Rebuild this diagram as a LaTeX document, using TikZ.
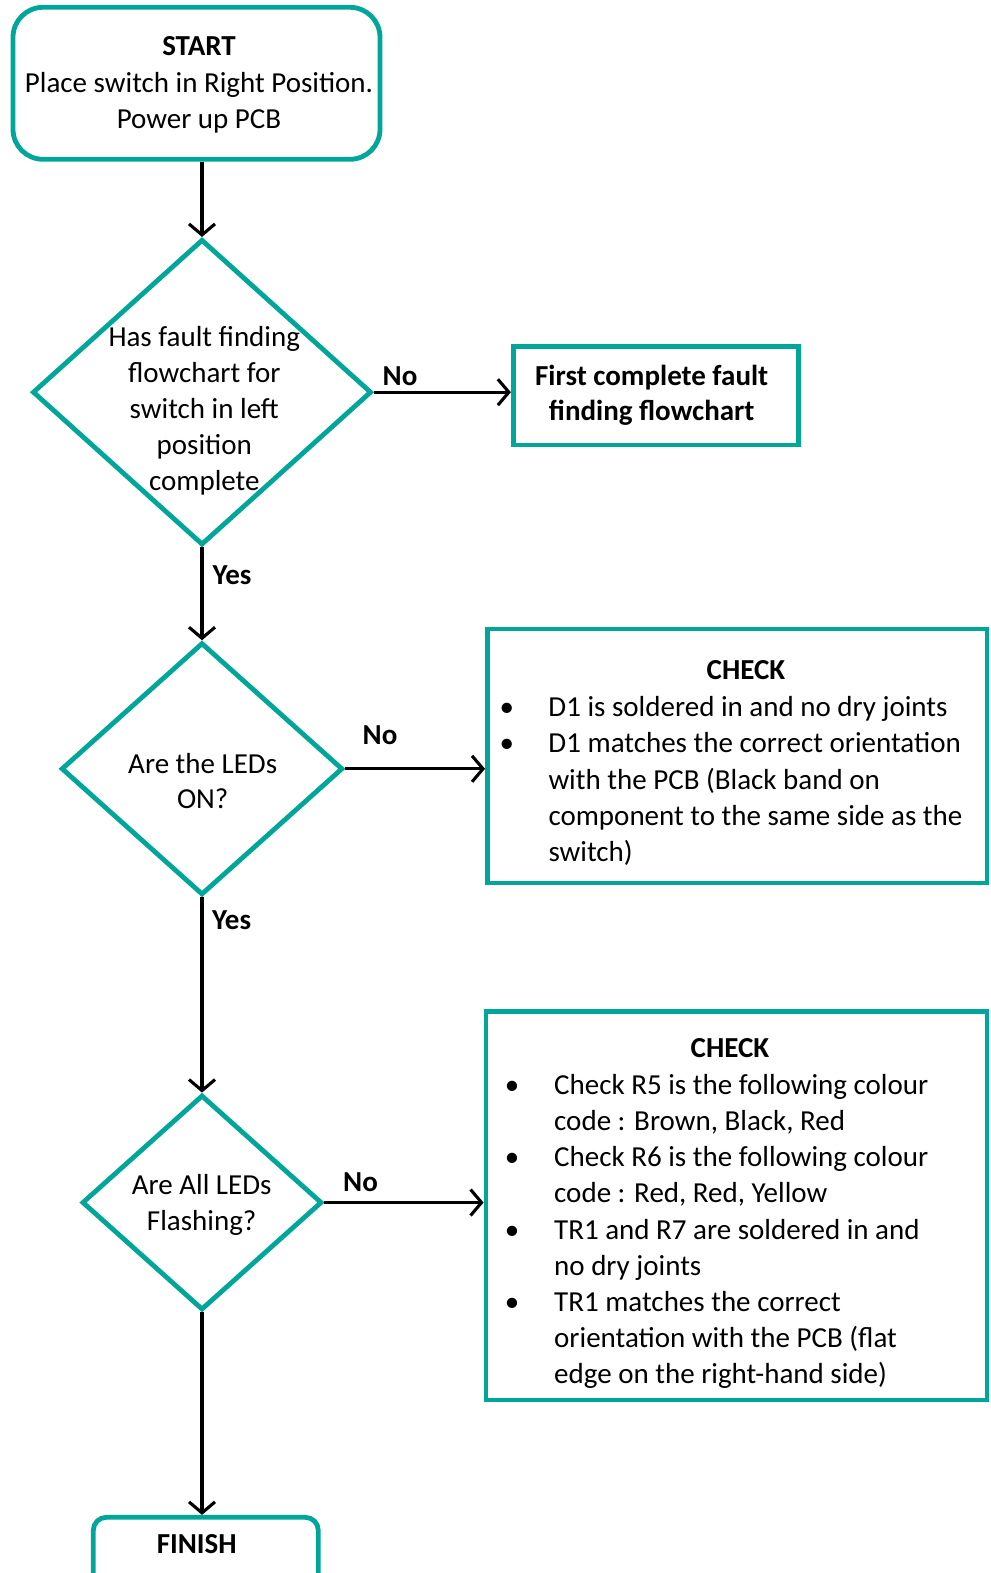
\documentclass[tikz,border=0pt]{standalone}
\usepackage{fontspec}
\setmainfont{Carlito}
\usetikzlibrary{arrows.meta,shapes.geometric}
\definecolor{tealline}{RGB}{0,166,153}
\newcommand\mtab[1]{\begin{tabular}[t]{@{}c@{}}#1\end{tabular}}
\newcommand\bul{\makebox[41.6pt][l]{\makebox[0pt]{•}}}
\begin{document}
\begin{tikzpicture}[x=1pt,y=-1pt,
  every node/.style={font={\fontsize{29}{36.2}\selectfont}, inner sep=0pt},
  txt/.style={anchor=base, align=center},
  lbl/.style={anchor=base, font={\fontsize{29}{36.2}\selectfont\bfseries}},
  frame/.style={draw=tealline, line width=4.8pt, fill=white},
  roundbox/.style={frame, rectangle, rounded corners=#1},
  sqbox/.style={frame, rectangle},
  decision/.style={frame, diamond},
  flow/.style={draw=black, line width=3.1pt, -{Straight Barb[length=11pt,width=26pt]}}]
\useasboundingbox (0,0) rectangle (990,1573);
\clip (0,0) rectangle (990,1573);
\fill[white] (0,0) rectangle (990,1573);

% shapes
\node[roundbox=30pt, minimum width=367pt, minimum height=152pt] (start) at (196.5,83.3) {};
\node[decision, minimum width=339pt, minimum height=305.7pt] (d1) at (202,392.2) {};
\node[sqbox, minimum width=285pt, minimum height=98.3pt] (first) at (655.8,395.9) {};
\node[decision, minimum width=281.6pt, minimum height=252.3pt] (d2) at (202,768.8) {};
\node[sqbox, minimum width=499.5pt, minimum height=254pt] (chk1) at (737.2,756) {};
\node[decision, minimum width=240pt, minimum height=215pt] (d3) at (202,1202.5) {};
\node[sqbox, minimum width=501pt, minimum height=388.5pt] (chk2) at (736.5,1205.7) {};
\node[roundbox=13pt, minimum width=225pt, minimum height=70pt] (finish) at (205.8,1552.3) {};

% texts
\node[txt] (starttxt) at (199,56) {\mtab{\textbf{START}\\Place switch in Right Position.\\Power up PCB}};
\node[txt] (d1txt) at (204.3,346) {\mtab{Has fault finding\\flowchart for\\switch in left\\position\\complete}};
\node[txt] (firsttxt) at (651.7,385) {\mtab{\textbf{First complete fault}\\[-0.5pt]\textbf{finding flowchart}}};
\node[txt] (d2txt) at (202.7,773.3) {\mtab{Are the LEDs\\[-1pt]ON?}};
\node[txt] (d3txt) at (201.7,1194.3) {\mtab{Are All LEDs\\[-0.5pt]Flashing?}};
\node[lbl] (chk1head) at (746,679.3) {CHECK};
\node[anchor=base west] (chk1list) at (506.7,716.7) {\begin{tabular}[t]{@{}l@{}l@{}}
\bul & D1 is soldered in and no dry joints\\
\bul & D1 matches the correct orientation\\
 & with the PCB (Black band on\\
 & component to the same side as the\\
 & switch)\end{tabular}};
\node[lbl] (chk2head) at (730,1057.3) {CHECK};
\node[anchor=base west] (chk2list) at (512,1094.3) {\begin{tabular}[t]{@{}l@{}l@{}}
\makebox[42pt][l]{\makebox[0pt]{•}} & Check R5 is the following colour\\
 & code : Brown, Black, Red\\
\makebox[42pt][l]{\makebox[0pt]{•}} & Check R6 is the following colour\\
 & code : Red, Red, Yellow\\
\makebox[42pt][l]{\makebox[0pt]{•}} & TR1 and R7 are soldered in and\\
 & no dry joints\\
\makebox[42pt][l]{\makebox[0pt]{•}} & TR1 matches the correct\\
 & orientation with the PCB (flat\\
 & edge on the right-hand side)\end{tabular}};
\node[lbl] (finishtxt) at (196.7,1553.3) {FINISH};

% connector labels
\node[lbl] (no1) at (400,385) {No};
\node[lbl, anchor=base west] (yes1) at (212.3,584.3) {Yes};
\node[lbl] (no2) at (380,744.3) {No};
\node[lbl, anchor=base west] (yes2) at (212,929) {Yes};
\node[lbl] (no3) at (360.5,1191.7) {No};

% connectors
\draw[flow] (start.south -| d1.north) -- (d1.north);
\draw[flow] (d1.east) -- (d1.east -| first.west);
\draw[flow] (d1.south) -- (d2.north);
\draw[flow] (d2.east) -- (d2.east -| chk1.west);
\draw[flow] (d2.south) -- (d3.north);
\draw[flow] (d3.east) -- (d3.east -| chk2.west);
\draw[flow] (d3.south) -- (d3.south |- finish.north);
\end{tikzpicture}
\end{document}
